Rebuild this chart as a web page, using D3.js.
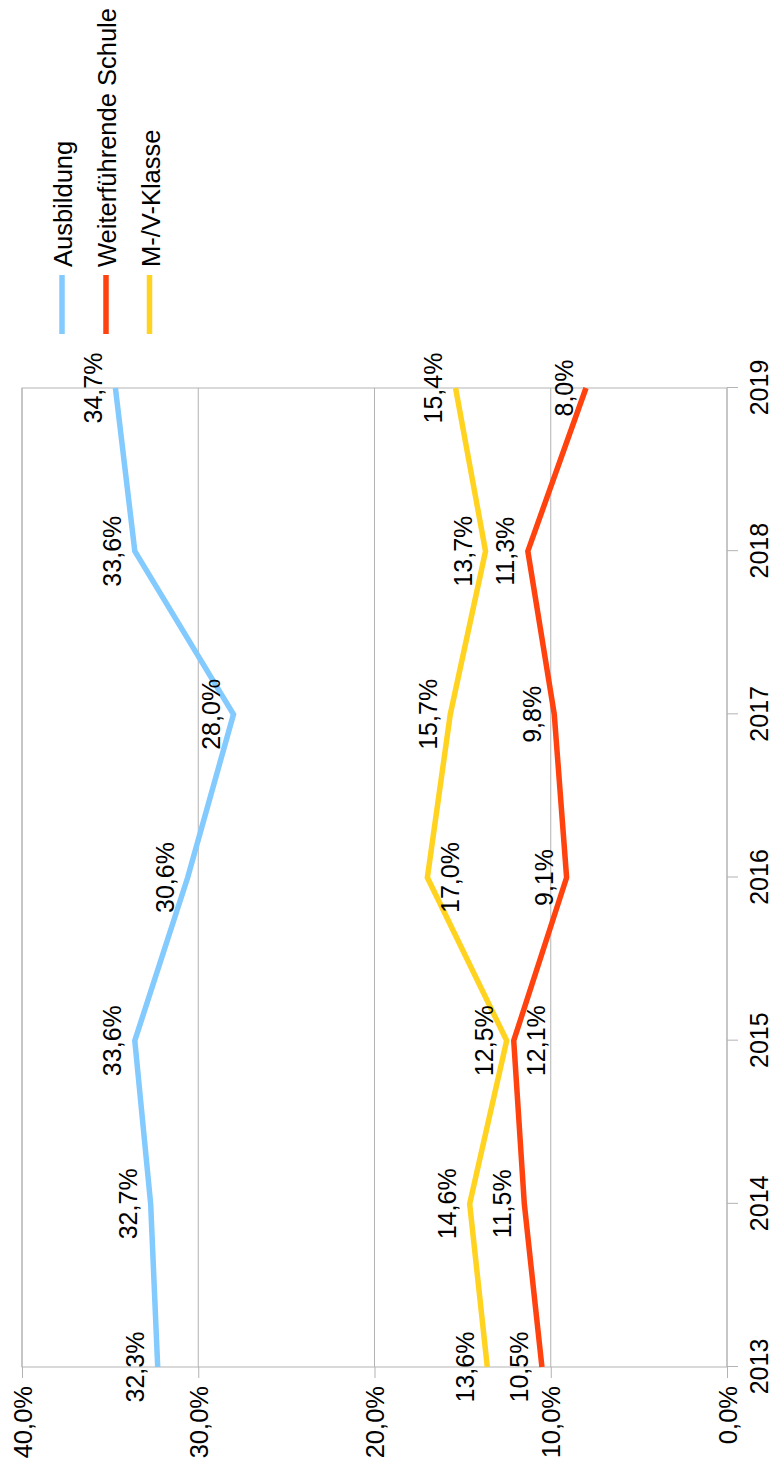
<!DOCTYPE html>
<html>
<head>
<meta charset="utf-8">
<script src="https://cdn.jsdelivr.net/npm/d3@7"></script>
<style>
  body { margin: 0; background: #fff; }
  text { font-family: "Liberation Sans", Arial, sans-serif; fill: #000; }
</style>
</head>
<body>
<svg id="chart" width="773" height="1475"></svg>
<script>
// data
const years = ["2013", "2014", "2015", "2016", "2017", "2018", "2019"];
const seriesNames = ["Ausbildung", "Weiterführende Schule", "M-/V-Klasse"];
const ausbildung = [32.3, 32.7, 33.6, 30.6, 28.0, 33.6, 34.7];
const weiterSchule = [10.5, 11.5, 12.1, 9.1, 9.8, 11.3, 8.0];
const mvKlasse = [13.6, 14.6, 12.5, 17.0, 15.7, 13.7, 15.4];
const valueTicks = [0, 10, 20, 30, 40];

const colors = ["#83caff", "#ff420e", "#ffd320"];
const series = [ausbildung, weiterSchule, mvKlasse].map((vals, i) => ({
  name: seriesNames[i],
  color: colors[i],
  values: vals.map((v, j) => ({ year: years[j], v: v }))
}));

const fmt = v => v.toFixed(1).replace(".", ",") + "%";

// the whole chart is drawn sideways: build it normally, then rotate
const svg = d3.select("svg#chart");
const g = svg.append("g").attr("transform", "translate(0,1475) rotate(-90)");

const x = d3.scalePoint().domain(years).range([108, 1087]);
const y = d3.scaleLinear().domain([0, 40]).range([727, 22]);

// gridlines
g.selectAll("line.grid")
  .data(valueTicks)
  .enter()
  .append("line")
  .attr("x1", 108)
  .attr("x2", 1087)
  .attr("y1", d => y(d))
  .attr("y2", d => y(d))
  .style("stroke", "#b3b3b3")
  .style("stroke-width", 1);

g.append("rect")
  .attr("x", 108)
  .attr("y", 22)
  .attr("width", 1087 - 108)
  .attr("height", 727 - 22)
  .style("fill", "none")
  .style("stroke", "#b3b3b3")
  .style("stroke-width", 1);

// axes
const xAxis = g.append("g")
  .attr("transform", "translate(0,727)")
  .call(d3.axisBottom(x).tickSize(11).tickPadding(12));
xAxis.select(".domain").remove();
xAxis.selectAll(".tick line").style("stroke", "#b3b3b3");
xAxis.selectAll("text")
  .style("font-size", "25px")
  .style("font-family", "Liberation Sans, Arial, sans-serif");

const yAxis = g.append("g")
  .attr("transform", "translate(108,0)")
  .call(d3.axisLeft(y).tickValues(valueTicks).tickFormat(fmt).tickSize(11).tickPadding(8));
yAxis.select(".domain").remove();
yAxis.selectAll(".tick line").style("stroke", "#b3b3b3");
yAxis.selectAll("text")
  .attr("dy", "0.36em")
  .style("font-size", "25.5px")
  .style("font-family", "Liberation Sans, Arial, sans-serif");

// lines
const line = d3.line().x(d => x(d.year)).y(d => y(d.v));

g.selectAll("path.series")
  .data(series)
  .enter()
  .append("path")
  .attr("d", d => line(d.values))
  .style("fill", "none")
  .style("stroke", d => d.color)
  .style("stroke-width", 5.5)
  .style("stroke-linejoin", "miter");

// data labels (two of them sit under the point in the original)
const below = ["Weiterführende Schule|2015", "M-/V-Klasse|2016"];
series.forEach(s => {
  g.selectAll(null)
    .data(s.values)
    .enter()
    .append("text")
    .attr("x", d => x(d.year))
    .attr("y", d => below.includes(s.name + "|" + d.year) ? y(d.v) + 31.5 : y(d.v) - 13.5)
    .attr("text-anchor", "middle")
    .style("font-size", "25px")
    .text(d => fmt(d.v));
});

// legend
const legend = g.selectAll("g.legend")
  .data(series)
  .enter()
  .append("g")
  .attr("transform", (d, i) => "translate(1141," + [62, 106, 149.5][i] + ")");

legend.append("line")
  .attr("x1", 0)
  .attr("x2", 59)
  .style("stroke", d => d.color)
  .style("stroke-width", 5.5);

legend.append("text")
  .attr("x", 67)
  .attr("y", 10)
  .style("font-size", "25.5px")
  .text(d => d.name);
</script>
</body>
</html>
